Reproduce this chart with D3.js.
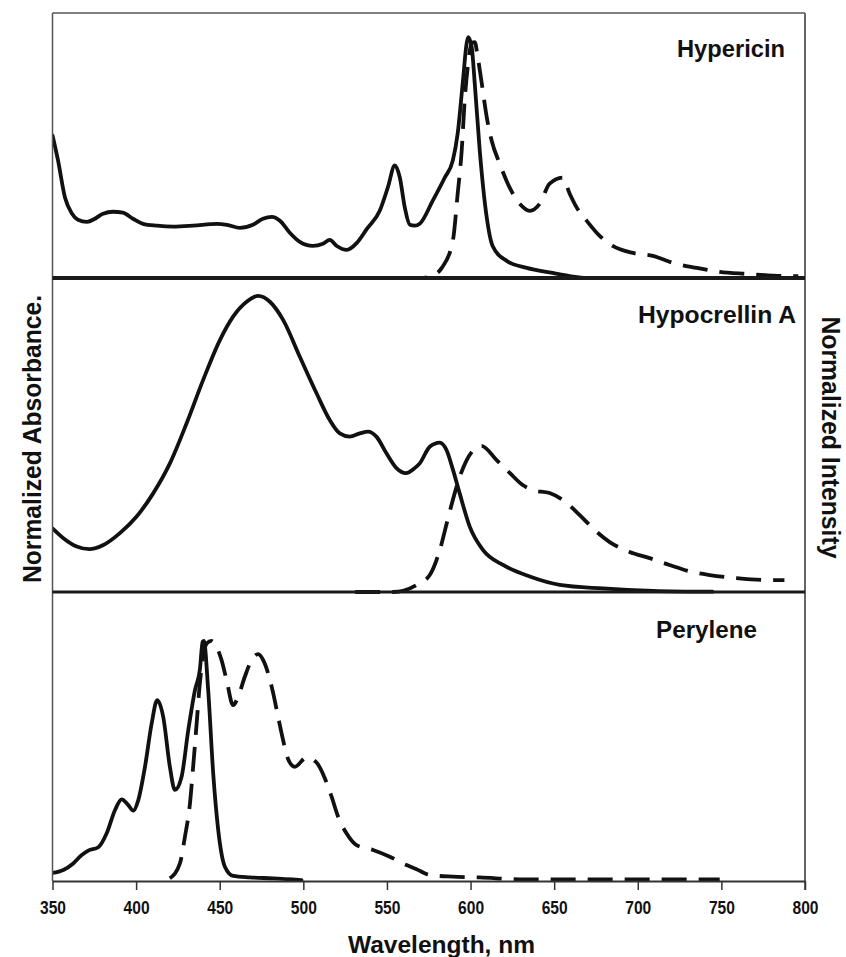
<!DOCTYPE html>
<html>
<head>
<meta charset="utf-8">
<script src="https://cdn.jsdelivr.net/npm/d3@7"></script>
<style>
  html, body { margin: 0; padding: 0; background: #fff; }
  svg { display: block; }
  text { font-family: "Liberation Sans", Arial, sans-serif; fill: #111; }
</style>
</head>
<body>
<svg id="chart" width="846" height="957"></svg>
<script>
// ---------- data ----------
const xTicks = [350, 400, 450, 500, 550, 600, 650, 700, 750, 800];
const panelNames = ["Hypericin", "Hypocrellin A", "Perylene"];

// Hypericin – absorbance (solid)
const hypAbsNm = [350, 353.3, 357.5, 361.7, 365.2, 370.6, 375.4, 380.2, 386.2, 392.1, 398.1, 404.1, 412.5, 422, 434, 448.3, 454.3, 462.1, 469.8, 475.8, 481.2, 486, 491.9, 497.9, 505.7, 511.7, 515.8, 520, 526, 532, 538, 545.7, 550.5, 554.7, 557.7, 560.7, 563.7, 566.6, 569.6, 577.4, 584.6, 589.4, 592.3, 595.3, 597.7, 598.6, 600.7, 602.5, 605.5, 609.7, 613.2, 621.6, 633.6, 649.1, 659.3, 669.4, 690];
const hypAbs   = [0.592, 0.488, 0.333, 0.267, 0.242, 0.233, 0.246, 0.267, 0.275, 0.271, 0.246, 0.225, 0.217, 0.213, 0.217, 0.225, 0.221, 0.208, 0.221, 0.246, 0.254, 0.238, 0.188, 0.150, 0.133, 0.142, 0.158, 0.133, 0.117, 0.146, 0.204, 0.279, 0.375, 0.467, 0.417, 0.292, 0.221, 0.217, 0.225, 0.321, 0.417, 0.488, 0.600, 0.808, 0.975, 1.0, 0.958, 0.808, 0.529, 0.250, 0.133, 0.071, 0.042, 0.021, 0.008, 0.0, 0.0];
// Hypericin – emission (dashed)
const hypEmNm = [559, 570, 577, 582.8, 589.4, 592.3, 594.7, 596.5, 598.3, 600.7, 602.5, 604.3, 606.7, 609.7, 612.6, 617.4, 623.4, 629.4, 635.4, 641.3, 647.3, 655.1, 659.3, 663.5, 669.4, 677.2, 685, 697, 709, 720.9, 735.3, 749, 765.1, 789, 796];
const hypEm   = [0.0, 0.0, 0.01, 0.042, 0.154, 0.350, 0.529, 0.738, 0.875, 0.975, 0.979, 0.917, 0.808, 0.667, 0.571, 0.475, 0.375, 0.308, 0.279, 0.308, 0.392, 0.417, 0.350, 0.292, 0.238, 0.175, 0.133, 0.104, 0.092, 0.063, 0.042, 0.025, 0.017, 0.008, 0.008];

// Hypocrellin A – absorbance (solid)
const hypoAbsNm = [350, 356.5, 364.5, 372, 380.4, 390.3, 400.3, 410.2, 420.2, 430.2, 440.1, 450.1, 458, 466.1, 473, 480, 487.9, 497.9, 507.9, 515.8, 521.8, 527.8, 533.8, 538.7, 543.7, 549.7, 555.7, 561.3, 566.6, 569.6, 575.6, 581.6, 585.6, 589.5, 593.5, 599.5, 607.5, 619.4, 635.4, 653.3, 679.2, 709.1, 744.7];
const hypoAbs   = [0.214, 0.181, 0.153, 0.144, 0.158, 0.198, 0.254, 0.332, 0.433, 0.568, 0.714, 0.848, 0.927, 0.977, 0.997, 0.977, 0.916, 0.792, 0.669, 0.579, 0.534, 0.523, 0.534, 0.540, 0.523, 0.467, 0.417, 0.400, 0.417, 0.433, 0.489, 0.503, 0.478, 0.411, 0.332, 0.220, 0.141, 0.091, 0.052, 0.024, 0.012, 0.004, 0.001];
// Hypocrellin A – emission (dashed)
const hypoEmNm = [531, 553.5, 567.8, 575.6, 581.6, 585.8, 589.4, 593.5, 597.7, 606.5, 615.6, 623.4, 631.2, 637.2, 647.3, 655.1, 665.3, 673, 683.2, 695.1, 707.1, 719, 732.8, 743, 759.1, 780.6, 787.7];
const hypoEm   = [0.0, 0.0, 0.024, 0.057, 0.141, 0.232, 0.310, 0.387, 0.444, 0.492, 0.444, 0.401, 0.360, 0.343, 0.333, 0.310, 0.259, 0.215, 0.168, 0.135, 0.114, 0.091, 0.067, 0.057, 0.047, 0.040, 0.040];

// Perylene – absorbance (solid)
const perAbsNm = [350, 356.5, 362.4, 367.5, 371.4, 377.4, 382.4, 387.4, 391.4, 395.3, 398.3, 401.3, 405.3, 409.3, 412.6, 416.2, 420.2, 423.2, 427.2, 431.2, 435.2, 438.1, 439.8, 440.5, 443.1, 446.1, 449.1, 453.1, 458, 468, 482, 498.9];
const perAbs   = [0.034, 0.046, 0.073, 0.108, 0.126, 0.140, 0.198, 0.295, 0.339, 0.315, 0.292, 0.336, 0.474, 0.654, 0.751, 0.682, 0.474, 0.378, 0.433, 0.627, 0.793, 0.876, 0.993, 0.997, 0.793, 0.447, 0.212, 0.059, 0.021, 0.015, 0.011, 0.004];
// Perylene – emission (dashed)
const perEmNm = [420.2, 426.2, 429.2, 432.2, 434.1, 436.2, 438.1, 440.1, 442.2, 445.1, 448.1, 451.1, 454.1, 458, 461, 465, 469, 473, 476, 479, 482, 484.9, 487.9, 490.9, 494.9, 501.9, 507.9, 512.9, 516.9, 520.8, 525.8, 531.8, 541.7, 551.7, 561.7, 567.7, 575.6, 589.3, 605.5, 629.4, 689.2, 749];
const perEm   = [0.011, 0.073, 0.184, 0.322, 0.474, 0.654, 0.820, 0.931, 0.986, 0.997, 0.972, 0.917, 0.834, 0.730, 0.765, 0.848, 0.917, 0.942, 0.917, 0.861, 0.779, 0.682, 0.585, 0.506, 0.474, 0.513, 0.492, 0.426, 0.350, 0.267, 0.198, 0.149, 0.129, 0.101, 0.066, 0.049, 0.025, 0.018, 0.015, 0.007, 0.007, 0.007];

// ---------- drawing ----------
const svg = d3.select("#chart");
const plotL = 52.5, plotR = 805, plotT = 13, plotB = 881;
const sep1 = 278, sep2 = 592;

const x = d3.scaleLinear().domain([350, 800]).range([plotL, plotR]);

const panels = [
  { name: panelNames[0], y: d3.scaleLinear().domain([0, 1.1]).range([sep1, plotT]),
    abs: [hypAbsNm, hypAbs], em: [hypEmNm, hypEm], lx: 677, ly: 57, lw: 108 },
  { name: panelNames[1], y: d3.scaleLinear().domain([0, 1.057]).range([sep2, sep1]),
    abs: [hypoAbsNm, hypoAbs], em: [hypoEmNm, hypoEm], lx: 638, ly: 323, lw: 158 },
  { name: panelNames[2], y: d3.scaleLinear().domain([0, 1.2]).range([plotB, sep2]),
    abs: [perAbsNm, perAbs], em: [perEmNm, perEm], lx: 656, ly: 638, lw: 101 }
];

const zip = (a, b) => a.map((v, i) => [v, b[i]]);

svg.append("defs").append("clipPath").attr("id", "plotclip")
  .append("rect").attr("x", plotL).attr("y", plotT).attr("width", plotR - plotL).attr("height", plotB - plotT);

const g = svg.append("g").attr("clip-path", "url(#plotclip)");

panels.forEach(p => {
  const line = d3.line().x(d => x(d[0])).y(d => p.y(d[1])).curve(d3.curveMonotoneX);
  g.append("path").datum(zip(p.em[0], p.em[1]))
    .attr("d", line).attr("fill", "none").attr("stroke", "#111")
    .attr("stroke-width", 3.8).attr("stroke-dasharray", "25,12")
    .attr("stroke-linejoin", "round");
  g.append("path").datum(zip(p.abs[0], p.abs[1]))
    .attr("d", line).attr("fill", "none").attr("stroke", "#111")
    .attr("stroke-width", 3.8).attr("stroke-linejoin", "round").attr("stroke-linecap", "round");
  svg.append("text").attr("x", p.lx).attr("y", p.ly)
    .attr("font-size", 24).attr("font-weight", "bold")
    .attr("textLength", p.lw).attr("lengthAdjust", "spacingAndGlyphs")
    .text(p.name);
});

// frame
svg.append("line").attr("x1", plotL).attr("x2", plotR).attr("y1", plotT).attr("y2", plotT)
  .attr("stroke", "#555").attr("stroke-width", 1.5);
svg.append("line").attr("x1", plotL).attr("x2", plotL).attr("y1", plotT).attr("y2", plotB)
  .attr("stroke", "#555").attr("stroke-width", 1.5);
svg.append("line").attr("x1", plotR).attr("x2", plotR).attr("y1", plotT).attr("y2", plotB + 9)
  .attr("stroke", "#666").attr("stroke-width", 2);
svg.append("line").attr("x1", plotL).attr("x2", plotR).attr("y1", sep1).attr("y2", sep1)
  .attr("stroke", "#1a1a1a").attr("stroke-width", 4);
svg.append("line").attr("x1", plotL).attr("x2", plotR).attr("y1", sep2).attr("y2", sep2)
  .attr("stroke", "#1a1a1a").attr("stroke-width", 3);

// x axis
const axis = svg.append("g").attr("transform", `translate(0,${plotB})`)
  .call(d3.axisBottom(x).tickValues(xTicks).tickSize(9).tickPadding(11).tickSizeOuter(0));
axis.select(".domain").attr("stroke", "#333").attr("stroke-width", 2);
axis.selectAll(".tick line").attr("stroke", "#333").attr("stroke-width", 1.5);
axis.selectAll(".tick text")
  .attr("font-family", "'Liberation Sans Narrow', 'Arial Narrow', 'Liberation Sans', Arial, sans-serif")
  .attr("font-size", 19).attr("font-weight", "bold").attr("fill", "#111")
  .attr("textLength", 26).attr("lengthAdjust", "spacingAndGlyphs");

// axis titles
svg.append("text").attr("x", 441.5).attr("y", 953).attr("text-anchor", "middle")
  .attr("font-size", 24).attr("font-weight", "bold")
  .attr("textLength", 187).attr("lengthAdjust", "spacingAndGlyphs")
  .text("Wavelength, nm");

svg.append("text").attr("transform", "translate(41,439) rotate(-90)")
  .attr("text-anchor", "middle").attr("font-size", 26).attr("font-weight", "bold")
  .attr("textLength", 288).attr("lengthAdjust", "spacingAndGlyphs")
  .text("Normalized Absorbance.");

svg.append("text").attr("transform", "translate(822,437.5) rotate(90)")
  .attr("text-anchor", "middle").attr("font-size", 25).attr("font-weight", "bold")
  .attr("textLength", 242).attr("lengthAdjust", "spacingAndGlyphs")
  .text("Normalized Intensity");
</script>
</body>
</html>
